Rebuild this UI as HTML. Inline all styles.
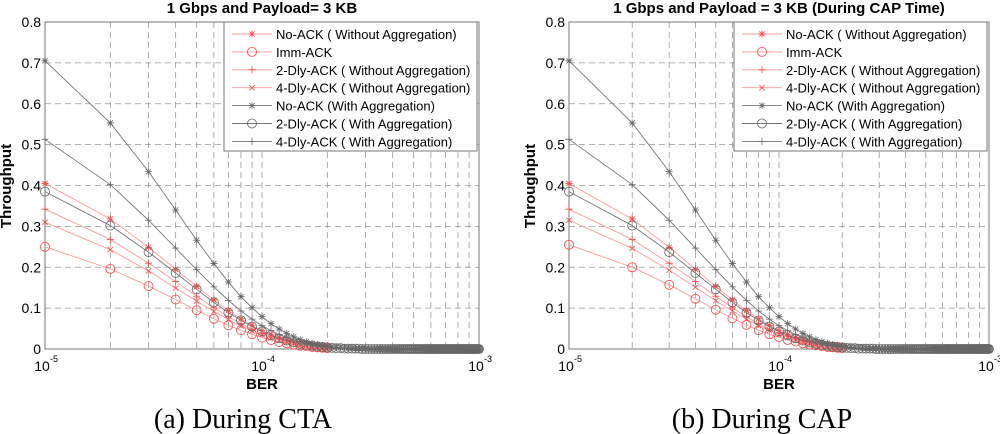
<!DOCTYPE html>
<html><head><meta charset="utf-8"><style>
html,body{margin:0;padding:0;background:#fff;width:1000px;height:434px;overflow:hidden}
svg{position:absolute;top:0}
text{font-family:"Liberation Sans",Arial,sans-serif}
.cap{font-family:"Liberation Serif","Times New Roman",serif;font-size:28px}
</style></head><body>
<svg id="left" width="505" height="434" style="left:0"></svg>
<svg id="right" width="500" height="434" style="left:500px"></svg>
<script>
// x categories: BER multiples of 1e-5 (k = 1..100)
const berK = Array.from({length:100},(_, i)=>i+1);
const yTicks = [0,0.1,0.2,0.3,0.4,0.5,0.6,0.7,0.8];
const seriesNames = ["No-ACK ( Without Aggregation)","Imm-ACK","2-Dly-ACK ( Without Aggregation)","4-Dly-ACK ( Without Aggregation)","No-ACK (With Aggregation)","2-Dly-ACK ( With Aggregation)","4-Dly-ACK ( With Aggregation)"];
const zeros70 = [0,0,0,0,0,0,0,0,0,0,0,0,0,0,0,0,0,0,0,0,0,0,0,0,0,0,0,0,0,0,0,0,0,0,0,0,0,0,0,0,0,0,0,0,0,0,0,0,0,0,0,0,0,0,0,0,0,0,0,0,0,0,0,0,0,0,0,0,0,0];
const noAckAgg = [.705,.553,.434,.340,.266,.209,.164,.128,.101,.079,.062,.049,.038,.030,.023,.018,.014,.011,.009,.007,.005,.004,.003,.003,.002,.002,.001,.001,.001,.001].concat(zeros70);
const dly4Agg = [.513,.402,.315,.247,.194,.152,.119,.093,.073,.057,.045,.035,.028,.022,.017,.013,.010,.008,.006,.005,.004,.003,.002,.002,.001,.001,.001,.001,.001,0].concat(zeros70);
const dly2Agg = [.385,.302,.237,.186,.146,.114,.089,.070,.055,.043,.034,.026,.021,.016,.013,.010,.008,.006,.005,.004,.003,.002,.002,.001,.001,.001,.001,.001,0,0].concat(zeros70);
const noAck = [.405,.318,.249,.195,.153,.120,.094,.074,.058,.045,.036,.028,.022,.017,.013,.011,.008,.006,.005,.004];
const dly2 = [.342,.268,.210,.165,.129,.101,.079,.062,.049,.038,.030,.024,.018,.014,.011,.009,.007,.005,.004,.003];
const dly4 = [.310,.243,.191,.149,.117,.092,.072,.056,.044,.035,.027,.021,.017,.013,.010,.008,.006,.005,.004,.003];
const imm = [.250,.196,.154,.121,.095,.074,.058,.046,.036,.028,.022,.017,.014,.011,.008,.007,.005,.004,.003,.002];
const dly4Cap = [.315,.246,.193,.151,.118,.093,.073,.057,.045,.035,.028,.022,.017,.013,.010,.008,.006,.005,.004,.003];
const immCap = [.255,.200,.157,.123,.096,.075,.059,.046,.036,.029,.022,.018,.014,.011,.009,.007,.005,.004,.003,.002];

const NS="http://www.w3.org/2000/svg";
function mk(p,tag,a,txt){const e=document.createElementNS(NS,tag);for(const k in a)e.setAttribute(k,a[k]);if(txt!==undefined)e.textContent=txt;p.appendChild(e);return e;}
function marker(g,type,x,y,col,sz){
  const s=sz||3.5;
  if(type==='o'){return mk(g,'circle',{cx:x,cy:y,r:s+1,fill:'none',stroke:col,'stroke-width':0.8});}
  let d='';
  if(type==='+'||type==='*')d+=`M${x-s},${y}H${x+s}M${x},${y-s}V${y+s}`;
  if(type==='x'||type==='*'){const t=s*0.75;d+=`M${x-t},${y-t}L${x+t},${y+t}M${x-t},${y+t}L${x+t},${y-t}`;}
  return mk(g,'path',{d:d,stroke:col,'stroke-width':0.8,fill:'none'});
}
function chart(svg,L,R,title,caption,capX,sets){
  const T=22,B=349;
  const xs=k=>L+(R-L)*Math.log10(k)/2;
  const ys=v=>B-(B-T)*v/0.8;
  const grid=mk(svg,'g',{});
  
  
  yTicks.forEach(t=>{
    if(t>0&&t<0.8)mk(grid,'line',{x1:L,x2:R,y1:ys(t),y2:ys(t),stroke:'#999','stroke-dasharray':'6,4','stroke-width':0.8});
    const lb=mk(svg,'text',{x:L-4,y:ys(t)+5,'text-anchor':'end','font-size':14},String(t));
    
    
  });
  [2,3,4,5,6,7,8,9,10,20,30,40,50,60,70,80,90].forEach(k=>{
    mk(grid,'line',{x1:xs(k),x2:xs(k),y1:T,y2:B,stroke:'#999','stroke-dasharray':'6,4','stroke-width':0.8});
  });
  mk(svg,'rect',{x:L,y:T,width:R-L,height:B-T,fill:'none',stroke:'#777','stroke-width':1});
  [[1,'-5'],[10,'-4'],[100,'-3']].forEach(([k,e])=>{
    const t=mk(svg,'text',{x:xs(k)-3,y:371,'text-anchor':'middle','font-size':14},'10');
    
    
    mk(svg,'text',{x:xs(k)+5,y:362,'font-size':9},e);
  });
  const ti=mk(svg,'text',{x:(L+R)/2,y:13,'text-anchor':'middle','font-size':15,'font-weight':'bold'},title);
  
  
  const xl=mk(svg,'text',{x:(L+R)/2,y:389,'text-anchor':'middle','font-size':15,'font-weight':'bold'},'BER');
  
  
  const yl=mk(svg,'text',{x:0,y:0,'text-anchor':'middle','font-size':15,'font-weight':'bold',transform:`translate(${L-34},186) rotate(-90)`},'Throughput');
  
  
  const cp=mk(svg,'text',{x:capX,y:428,'text-anchor':'middle',class:'cap'},caption);
  
  
  sets.forEach(s=>{
    const g=mk(svg,'g',{});
    
    
    const pts=s.v.map((v,i)=>[xs(berK[i]),ys(v)]);
    mk(g,'polyline',{points:pts.map(p=>p.join(',')).join(' '),fill:'none',stroke:s.line,'stroke-width':0.9});
    pts.forEach(p=>marker(g,s.m,p[0],p[1],s.col));
  });
  // legend
  const lx=R-255, lw=253;
  const lg=mk(svg,'g',{});
  
  
  mk(lg,'rect',{x:lx,y:T,width:lw,height:129,fill:'#fff',stroke:'#777'});
  sets.forEach((s,i)=>{
    const y=34+i*17.9;
    const e=mk(lg,'g',{});
    
    
    mk(e,'line',{x1:lx+8,x2:lx+48,y1:y,y2:y,stroke:s.line,'stroke-width':0.9});
    marker(e,s.m,lx+28,y,s.col);
    mk(e,'text',{x:lx+52,y:y+5,'font-size':13,textLength:s.tl||null},seriesNames[i]);
  });
}
const RL='#ff9a9a',RC='#f44',KL='#777',KC='#666';
function sets(im,d4){return [
 {id:'no-ack-wo',v:noAck,m:'*',col:RC,line:RL},
 {id:'imm-ack',v:im,m:'o',col:RC,line:RL},
 {id:'2-dly-wo',v:dly2,m:'+',col:RC,line:RL},
 {id:'4-dly-wo',v:d4,m:'x',col:RC,line:RL},
 {id:'no-ack-agg',v:noAckAgg,m:'*',col:KC,line:KL},
 {id:'2-dly-agg',v:dly2Agg,m:'o',col:KC,line:KL},
 {id:'4-dly-agg',v:dly4Agg,m:'+',col:KC,line:KL}];}
chart(document.getElementById('left'),45,479,'1 Gbps and Payload= 3 KB','(a) During CTA',243,sets(imm,dly4));
chart(document.getElementById('right'),69,489,'1 Gbps and Payload = 3 KB (During CAP Time)','(b) During CAP',262,sets(immCap,dly4Cap));
</script>
</body></html>
